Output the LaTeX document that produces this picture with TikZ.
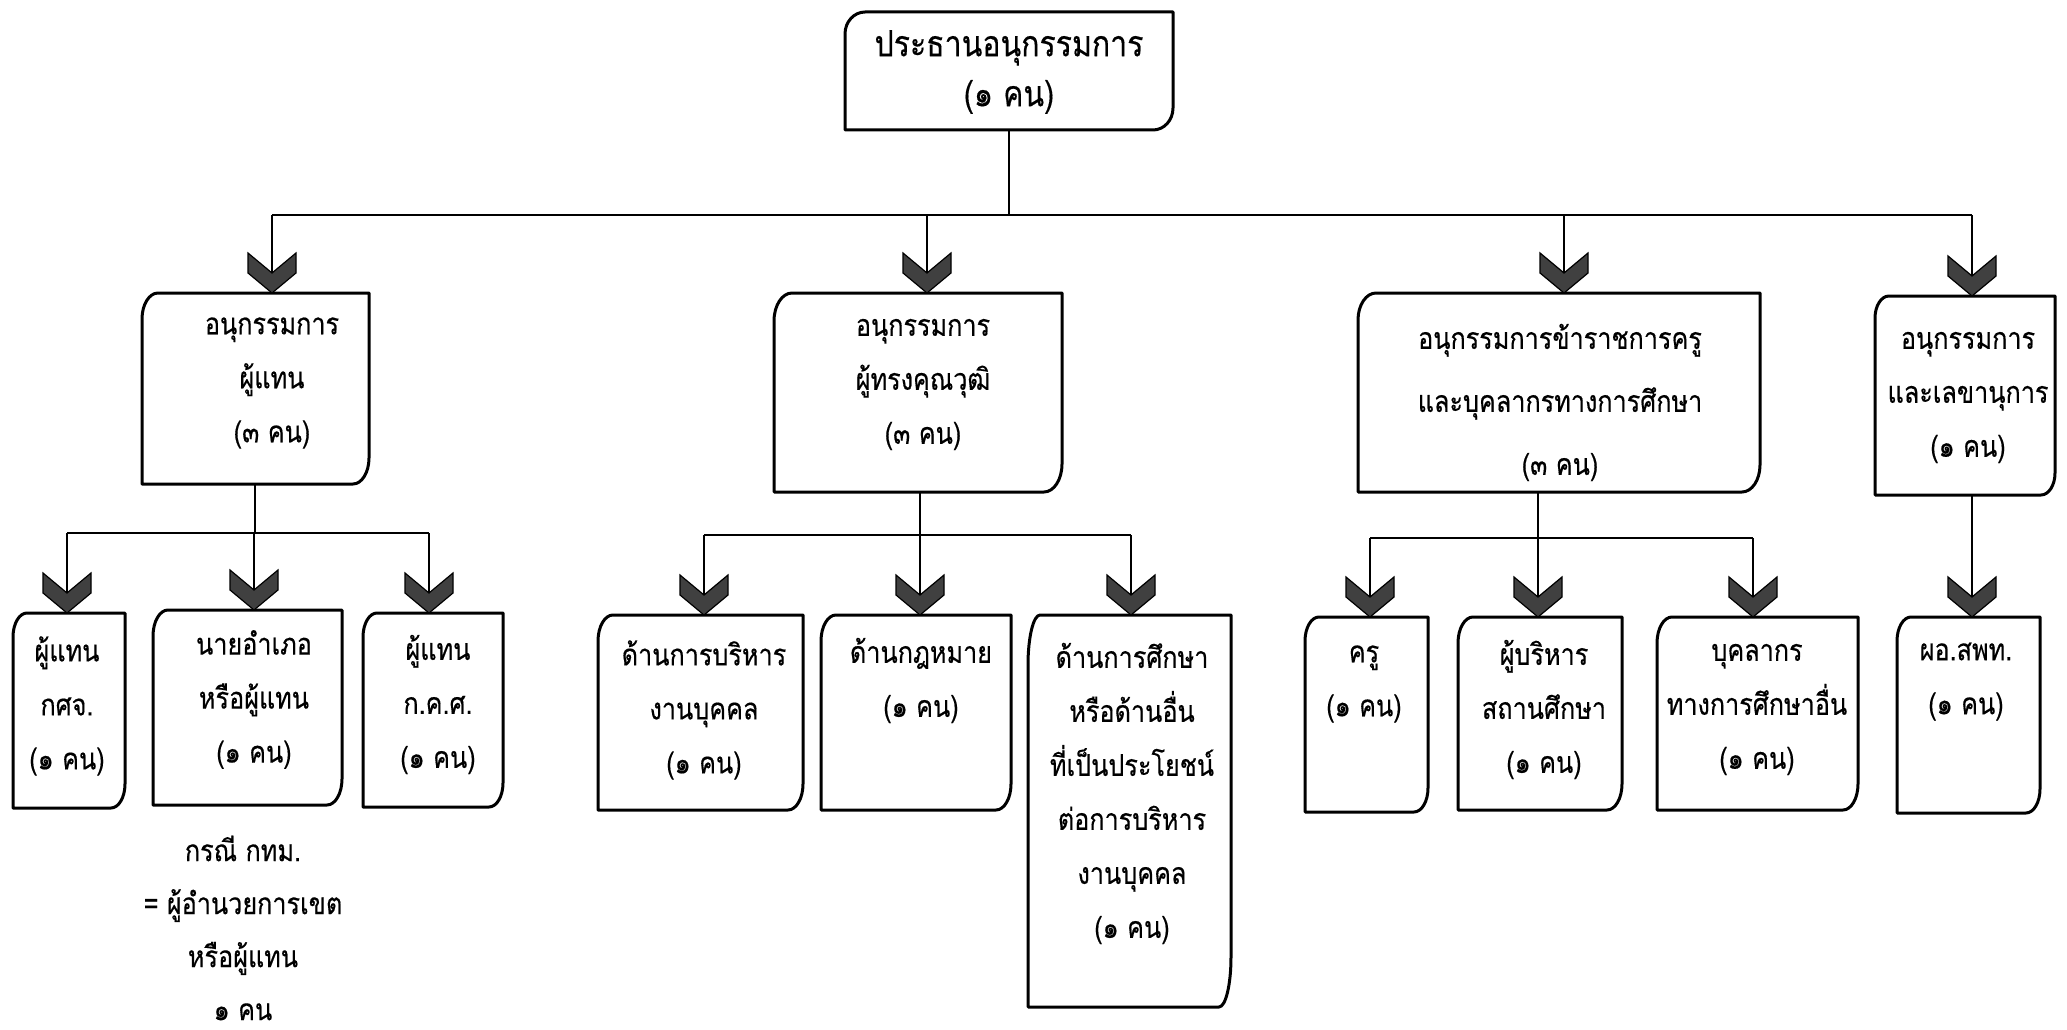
\documentclass[tikz,border=0pt]{standalone}
\usepackage{fontspec}
\newfontfamily\thaifont[Script=Thai, FakeStretch=0.84, FakeBold=0.4]{Loma}
\tikzset{
  boxn/.style={draw=none, inner sep=0pt, outer sep=0pt},
  boxline/.style={draw=black, line width=3pt, line join=round},
  conn/.style={draw=black, line width=1.8pt},
  txt/.style={align=center, inner sep=0pt, font=\thaifont\fontsize{30}{54}\selectfont},
  toptxt/.style={align=center, inner sep=0pt, font=\thaifont\fontsize{36}{50}\selectfont},
  widetxt/.style={align=center, inner sep=0pt, font=\thaifont\fontsize{30}{63}\selectfont},
  chev/.pic={\filldraw[fill=black!75, draw=black, line width=1.2pt, line join=miter]
     (0,0) -- (-24,20) -- (-24,40) -- (0,20) -- (24,40) -- (24,20) -- cycle;}
}
\newcommand\rdbox[3]{\draw[boxline] ([xshift=#2]#1.north west) -- (#1.north east)
  -- ([yshift=#3]#1.south east) arc[start angle=0,end angle=-90,x radius=#2,y radius=#3]
  -- (#1.south west) -- ([yshift=-#3]#1.north west)
  arc[start angle=180,end angle=90,x radius=#2,y radius=#3] -- cycle;}
\begin{document}
\begin{tikzpicture}[x=1pt,y=1pt]
\fill[white] (0,0) rectangle (2067,-1030);
\useasboundingbox (0,0) rectangle (2067,-1030);

% ---------- boxes ----------
\node[boxn, minimum width=328pt, minimum height=118pt] (top) at (1009,-71) {};
\node[boxn, minimum width=227pt, minimum height=191pt] (b1) at (255.5,-388.5) {};
\node[boxn, minimum width=288pt, minimum height=199pt] (b2) at (918,-392.5) {};
\node[boxn, minimum width=402pt, minimum height=199pt] (b3) at (1559,-392.5) {};
\node[boxn, minimum width=180pt, minimum height=199pt] (b4) at (1965,-395.5) {};

\node[boxn, minimum width=112pt, minimum height=195pt] (c1) at (69,-710.5) {};
\node[boxn, minimum width=189pt, minimum height=195pt] (c2) at (247.5,-707.5) {};
\node[boxn, minimum width=140pt, minimum height=194pt] (c3) at (433,-710) {};

\node[boxn, minimum width=205pt, minimum height=195pt] (d1) at (700.5,-712.5) {};
\node[boxn, minimum width=190pt, minimum height=195pt] (d2) at (916,-712.5) {};
\node[boxn, minimum width=203pt, minimum height=392pt] (d3) at (1129.5,-811) {};

\node[boxn, minimum width=123pt, minimum height=195pt] (e1) at (1366.5,-714.5) {};
\node[boxn, minimum width=164pt, minimum height=193pt] (e2) at (1540,-713.5) {};
\node[boxn, minimum width=201pt, minimum height=193pt] (e3) at (1757.5,-713.5) {};
\node[boxn, minimum width=143pt, minimum height=196pt] (f1) at (1968.5,-715) {};

\rdbox{top}{20pt}{22pt}
\rdbox{b1}{16pt}{26pt}
\rdbox{b2}{18pt}{28pt}
\rdbox{b3}{18pt}{27pt}
\rdbox{b4}{14pt}{22pt}
\rdbox{c1}{14pt}{24pt}
\rdbox{c2}{15pt}{26pt}
\rdbox{c3}{14pt}{24pt}
\rdbox{d1}{15pt}{26pt}
\rdbox{d2}{15pt}{26pt}
\rdbox{d3}{12pt}{50pt}
\rdbox{e1}{14pt}{24pt}
\rdbox{e2}{15pt}{26pt}
\rdbox{e3}{15pt}{26pt}
\rdbox{f1}{14pt}{24pt}

% ---------- texts ----------
\node[toptxt] (topt) at (1009,-72) {ประธานอนุกรรมการ\\(๑ คน)};
\node[txt] (b1t) at (272,-383) {อนุกรรมการ\\ผู้แทน\\(๓ คน)};
\node[txt] (b2t) at (923,-384.5) {อนุกรรมการ\\ผู้ทรงคุณวุฒิ\\(๓ คน)};
\node[widetxt] (b3t) at (1560,-402.5) {อนุกรรมการข้าราชการครู\\และบุคลากรทางการศึกษา\\(๓ คน)};
\node[txt] (b4t) at (1968,-397.5) {อนุกรรมการ\\และเลขานุการ\\(๑ คน)};

\node[txt] (c1t) at (67,-706) {ผู้แทน\\กศจ.\\(๑ คน)};
\node[txt] (c2t) at (254,-699.5) {นายอำเภอ\\หรือผู้แทน\\(๑ คน)};
\node[txt] (c3t) at (438,-704.5) {ผู้แทน\\ก.ค.ศ.\\(๑ คน)};
\node[txt, font=\thaifont\fontsize{30}{53}\selectfont] (note) at (243,-928) {กรณี กทม.\\= ผู้อำนวยการเขต\\หรือผู้แทน\\๑ คน};

\node[txt] (d1t) at (704,-710) {ด้านการบริหาร\\งานบุคคล\\(๑ คน)};
\node[txt] (d2t) at (921,-680.5) {ด้านกฎหมาย\\(๑ คน)};
\node[txt] (d3t) at (1132,-793.5) {ด้านการศึกษา\\หรือด้านอื่น\\ที่เป็นประโยชน์\\ต่อการบริหาร\\งานบุคคล\\(๑ คน)};

\node[txt] (e1t) at (1364,-684) {ครู\\(๑ คน)};
\node[txt] (e2t) at (1544,-709.5) {ผู้บริหาร\\สถานศึกษา\\(๑ คน)};
\node[txt] (e3t) at (1757,-709.5) {บุคลากร\\ทางการศึกษาอื่น\\(๑ คน)};
\node[txt] (f1t) at (1966,-681.5) {ผอ.สพท.\\(๑ คน)};

% ---------- junction coordinates ----------
\coordinate (j0) at (1009,-215);
\coordinate (j1) at (272,-215);
\coordinate (j2) at (927,-215);
\coordinate (j3) at (1564,-215);
\coordinate (j4) at (1972,-215);

\coordinate (k0) at (255,-533);
\coordinate (k1) at (67,-533);
\coordinate (k2) at (254,-533);
\coordinate (k3) at (429,-533);

\coordinate (m0) at (920,-535);
\coordinate (m1) at (704,-535);
\coordinate (m2) at (920,-535);
\coordinate (m3) at (1131,-535);

\coordinate (n0) at (1538,-538);
\coordinate (n1) at (1370,-538);
\coordinate (n2) at (1538,-538);
\coordinate (n3) at (1753,-538);

\coordinate (p0) at (1972,-540);

% ---------- connectors ----------
\draw[conn] (top.south) -- (j0);
\draw[conn] (j1) -- (j4);
\draw[conn] (j1) -- (j1 |- b1.north);
\draw[conn] (j2) -- (j2 |- b2.north);
\draw[conn] (j3) -- (j3 |- b3.north);
\draw[conn] (j4) -- (j4 |- b4.north);

\draw[conn] (b1.south -| k0) -- (k0);
\draw[conn] (k1) -- (k3);
\draw[conn] (k1) -- (k1 |- c1.north);
\draw[conn] (k2) -- (k2 |- c2.north);
\draw[conn] (k3) -- (k3 |- c3.north);

\draw[conn] (b2.south -| m0) -- (m0);
\draw[conn] (m1) -- (m3);
\draw[conn] (m1) -- (m1 |- d1.north);
\draw[conn] (m2) -- (m2 |- d2.north);
\draw[conn] (m3) -- (m3 |- d3.north);

\draw[conn] (b3.south -| n0) -- (n0);
\draw[conn] (n1) -- (n3);
\draw[conn] (n1) -- (n1 |- e1.north);
\draw[conn] (n2) -- (n2 |- e2.north);
\draw[conn] (n3) -- (n3 |- e3.north);

\draw[conn] (b4.south -| p0) -- (p0 |- f1.north);

% ---------- chevron arrowheads ----------
\pic at (j1 |- b1.north) {chev};
\pic at (j2 |- b2.north) {chev};
\pic at (j3 |- b3.north) {chev};
\pic at (j4 |- b4.north) {chev};
\pic at (k1 |- c1.north) {chev};
\pic at (k2 |- c2.north) {chev};
\pic at (k3 |- c3.north) {chev};
\pic at (m1 |- d1.north) {chev};
\pic at (m2 |- d2.north) {chev};
\pic at (m3 |- d3.north) {chev};
\pic at (n1 |- e1.north) {chev};
\pic at (n2 |- e2.north) {chev};
\pic at (n3 |- e3.north) {chev};
\pic at (p0 |- f1.north) {chev};
\end{tikzpicture}
\end{document}
